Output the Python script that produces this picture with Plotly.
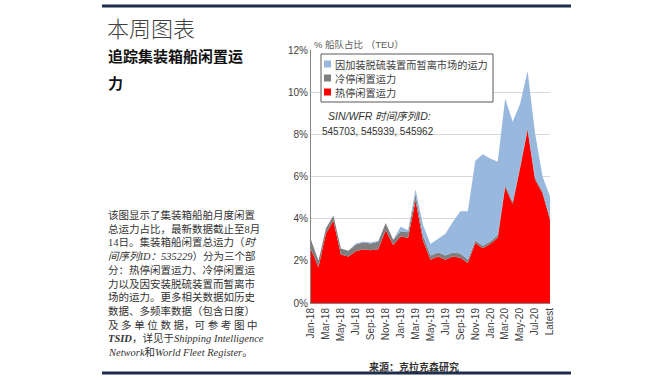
import plotly.graph_objects as go

# ---------------- data ----------------
categories = ["Jan-18", "Feb-18", "Mar-18", "Apr-18", "May-18", "Jun-18", "Jul-18", "Aug-18",
              "Sep-18", "Oct-18", "Nov-18", "Dec-18", "Jan-19", "Feb-19", "Mar-19", "Apr-19",
              "May-19", "Jun-19", "Jul-19", "Aug-19", "Sep-19", "Oct-19", "Nov-19", "Dec-19",
              "Jan-20", "Feb-20", "Mar-20", "Apr-20", "May-20", "Jun-20", "Jul-20", "Aug-20",
              "Latest"]

hot_idle = [2.55, 1.70, 3.30, 3.90, 2.30, 2.20, 2.45, 2.55, 2.50, 2.55, 3.45, 2.75,
            3.15, 3.10, 4.85, 2.95, 2.05, 2.20, 2.05, 2.20, 2.15, 1.90, 2.85, 2.60,
            2.80, 3.10, 5.50, 4.70, 6.40, 8.20, 5.85, 5.20, 3.95]

cold_idle = [0.45, 0.30, 0.25, 0.25, 0.28, 0.28, 0.32, 0.32, 0.32, 0.35, 0.35, 0.25,
             0.25, 0.25, 0.30, 0.25, 0.20, 0.20, 0.20, 0.20, 0.20, 0.15, 0.12, 0.12,
             0.12, 0.12, 0.10, 0.10, 0.10, 0.10, 0.10, 0.10, 0.10]

scrubber = [0.00, 0.00, 0.00, 0.00, 0.00, 0.00, 0.05, 0.05, 0.05, 0.05, 0.00, 0.00,
            0.22, 0.10, 0.25, 0.50, 0.55, 0.65, 1.03, 1.45, 2.00, 2.30, 3.78, 4.33,
            3.93, 3.48, 4.10, 3.80, 2.95, 2.70, 2.10, 0.70, 1.00]

tick_labels = categories[::2]
y_ticks = [0, 2, 4, 6, 8, 10, 12]
y_tick_text = ["0%", "2%", "4%", "6%", "8%", "10%", "12%"]

series_names = ["热停闲置运力", "冷停闲置运力", "因加装脱硫装置而暂离市场的运力"]
series_colors = ["#FF0000", "#7F7F7F", "#98B8DD"]

paragraph = [
    "该图显示了集装箱船舶月度闲置",
    "总运力占比，最新数据截止至8月",
    "14日。集装箱船闲置总运力（<i>时</i>",
    "<i>间序列ID：535229</i>）分为三个部",
    "分：热停闲置运力、冷停闲置运",
    "力以及因安装脱硫装置而暂离市",
    "场的运力。更多相关数据如历史",
    "数据、多频率数据（包含日度）",
    "及 多 单 位 数 据，可 参 考 图 中",
    "<b><i>TSID</i></b>，详见于<i>Shipping Intelligence</i>",
    "<i>Network</i>和<i>World Fleet Register</i>。",
]

# ---------------- layout geometry (pixels) ----------------
W, H = 670, 380
L, R, T, B = 311, 550, 50, 303


def px(x):
    return (x - L) / (R - L)


def py(y):
    return (B - y) / (B - T)


fig = go.Figure()
for vals, name, col in zip([hot_idle, cold_idle, scrubber], series_names, series_colors):
    fig.add_trace(go.Scatter(
        x=categories, y=vals, name=name, mode="lines",
        stackgroup="one", line=dict(width=0, color=col),
        fillcolor=col, showlegend=False, hoverinfo="x+y+name"))

shapes = []
annotations = []

# decorative rules
shapes.append(dict(type="line", xref="paper", yref="paper",
                   x0=px(102), x1=px(571), y0=py(6), y1=py(6),
                   line=dict(color="#1F2D4D", width=3)))
shapes.append(dict(type="line", xref="paper", yref="paper",
                   x0=px(102), x1=px(571), y0=py(373), y1=py(373),
                   line=dict(color="#1F2D4D", width=3)))

# legend box (manual)
shapes.append(dict(type="rect", xref="paper", yref="paper",
                   x0=px(321), x1=px(493), y0=py(54), y1=py(102),
                   line=dict(color="#595959", width=1), fillcolor="white",
                   layer="above"))
leg_y = [64, 78, 92]
for yy, name, col in zip(leg_y, series_names[::-1], series_colors[::-1]):
    shapes.append(dict(type="rect", xref="paper", yref="paper",
                       x0=px(324), x1=px(331), y0=py(yy - 3.5), y1=py(yy + 3.5),
                       line=dict(width=0), fillcolor=col, layer="above"))
    annotations.append(dict(xref="paper", yref="paper", x=px(333), y=py(yy),
                            xanchor="left", yanchor="middle", showarrow=False,
                            text=name,
                            font=dict(family="Noto Sans CJK SC", size=10.2, color="#404040")))

# y axis title
annotations.append(dict(xref="paper", yref="paper", x=px(312), y=py(45),
                        xanchor="left", yanchor="middle", showarrow=False,
                        text="% 船队占比 （TEU）",
                        font=dict(family="Liberation Sans, Noto Sans CJK SC", size=9.5, color="#595959")))

# series id note
annotations.append(dict(xref="paper", yref="paper", x=px(326), y=py(116),
                        xanchor="left", yanchor="middle", showarrow=False,
                        text="<i>SIN/WFR 时间序列ID:</i>",
                        font=dict(family="Liberation Sans, Noto Sans CJK SC", size=10.5, color="#333333")))
annotations.append(dict(xref="paper", yref="paper", x=px(320), y=py(131),
                        xanchor="left", yanchor="middle", showarrow=False,
                        text="545703, 545939, 545962",
                        font=dict(family="Liberation Sans", size=10, color="#333333")))

# heading
annotations.append(dict(xref="paper", yref="paper", x=px(105), y=py(27),
                        xanchor="left", yanchor="middle", showarrow=False,
                        text="本周图表",
                        font=dict(family="Noto Sans CJK SC", size=22, color="#404040", weight=300)))
annotations.append(dict(xref="paper", yref="paper", x=px(106), y=py(56),
                        xanchor="left", yanchor="middle", showarrow=False,
                        text="<b>追踪集装箱船闲置运</b>",
                        font=dict(family="Noto Sans CJK SC", size=15, color="#111111")))
annotations.append(dict(xref="paper", yref="paper", x=px(106), y=py(82),
                        xanchor="left", yanchor="middle", showarrow=False,
                        text="<b>力</b>",
                        font=dict(family="Noto Sans CJK SC", size=15, color="#111111")))

# paragraph
for k, line in enumerate(paragraph):
    annotations.append(dict(xref="paper", yref="paper", x=px(106), y=py(215 + 13.7 * k),
                            xanchor="left", yanchor="middle", showarrow=False,
                            text=line,
                            font=dict(family="Liberation Serif, Noto Sans CJK SC", size=10.5,
                                      color="#333333")))

# source
annotations.append(dict(xref="paper", yref="paper", x=px(367), y=py(366),
                        xanchor="left", yanchor="middle", showarrow=False,
                        text="<b>来源：克拉克森研究</b>",
                        font=dict(family="Noto Sans CJK SC", size=10, color="#333333")))

fig.update_layout(
    width=W, height=H,
    margin=dict(l=L, r=W - R, t=T, b=H - B, pad=0),
    paper_bgcolor="white", plot_bgcolor="white",
    showlegend=False,
    shapes=shapes, annotations=annotations,
    xaxis=dict(type="category", range=[0, len(categories) - 1],
               tickmode="array", tickvals=tick_labels, ticktext=tick_labels,
               tickangle=-90, ticks="", showgrid=False,
               showline=True, linecolor="#868686", linewidth=1,
               tickfont=dict(family="Liberation Sans", size=10, color="#404040"),
               zeroline=False, fixedrange=True),
    yaxis=dict(range=[0, 12], tickmode="array", tickvals=y_ticks, ticktext=y_tick_text,
               showgrid=True, gridcolor="#D9D9D9", gridwidth=1,
               showline=True, linecolor="#868686", linewidth=1, ticks="",
               tickfont=dict(family="Liberation Sans", size=10, color="#404040"),
               zeroline=False, fixedrange=True),
)

fig.write_html("out.html", config={"displayModeBar": False},
               post_script="document.body.style.margin='0';document.body.style.overflow='hidden';")
